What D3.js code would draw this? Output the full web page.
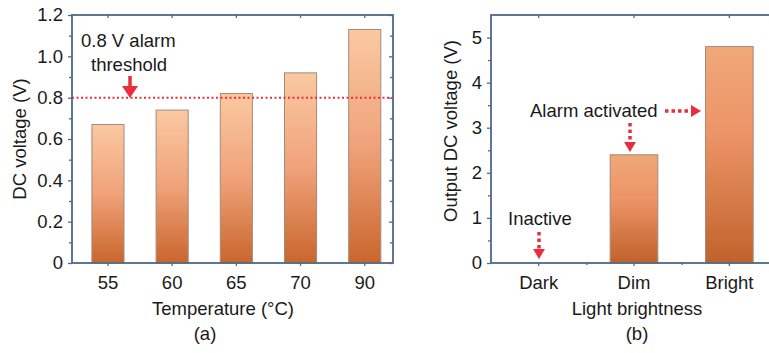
<!DOCTYPE html>
<html>
<head>
<meta charset="utf-8">
<script src="https://cdn.jsdelivr.net/npm/d3@7"></script>
<style>
  body { margin: 0; background: #fff; }
  svg text { font-family: "Liberation Sans", Arial, sans-serif; fill: #1a1a1a; }
</style>
</head>
<body>
<div id="chart"></div>
<script>
// panel (a) data
const tempLabels = ["55", "60", "65", "70", "90"];
const tempVoltage = [0.67, 0.74, 0.82, 0.92, 1.13];
const tempTicks = [0, 0.2, 0.4, 0.6, 0.8, 1.0, 1.2];
const alarmThreshold = 0.8;

// panel (b) data
const lightLabels = ["Dark", "Dim", "Bright"];
const lightVoltage = [0, 2.4, 4.8];
const lightTicks = [0, 1, 2, 3, 4, 5];

const W = 769, H = 353;
const FS = 18.5;
const frameColor = "#4d6a88";
const red = "#ea2e3c";

const svg = d3.select("#chart").append("svg")
  .attr("width", W)
  .attr("height", H);

const defs = svg.append("defs");
const gradA = defs.append("linearGradient").attr("id", "gradA")
  .attr("x1", 0).attr("y1", 0).attr("x2", 0).attr("y2", 1);
gradA.append("stop").attr("offset", "0%").attr("stop-color", "#fac9a1");
gradA.append("stop").attr("offset", "50%").attr("stop-color", "#f0a27a");
gradA.append("stop").attr("offset", "100%").attr("stop-color", "#c9662c");

const gradB = defs.append("linearGradient").attr("id", "gradB")
  .attr("x1", 0).attr("y1", 0).attr("x2", 0).attr("y2", 1);
gradB.append("stop").attr("offset", "0%").attr("stop-color", "#f0a878");
gradB.append("stop").attr("offset", "40%").attr("stop-color", "#ed9468");
gradB.append("stop").attr("offset", "100%").attr("stop-color", "#c0622a");

// draws a framed bar panel with inner/outer ticks like the figure
function panel(opt) {
  const g = svg.append("g");
  const x = d3.scaleBand().domain(opt.labels).range([opt.left, opt.right])
    .paddingInner(0.5).paddingOuter(0.25).align(opt.align);
  const y = d3.scaleLinear().domain(opt.yDomain).range([opt.bottom, opt.top]);

  // bars
  g.selectAll("rect.bar").data(opt.values).enter().append("rect")
    .attr("class", "bar")
    .attr("x", (d, i) => x(opt.labels[i]))
    .attr("width", x.bandwidth())
    .attr("y", d => y(d))
    .attr("height", d => y(0) - y(d))
    .attr("fill", opt.fill)
    .attr("stroke", "#a48a7c")
    .attr("stroke-width", d => d > 0 ? 1 : 0);

  // left axis (outer ticks)
  g.append("g").attr("transform", `translate(${opt.left},0)`)
    .call(d3.axisLeft(y).tickValues(opt.ticks).tickSize(4).tickPadding(5).tickFormat(opt.fmt));
  g.append("g").attr("transform", `translate(${opt.left},0)`)
    .call(d3.axisLeft(y).tickValues(opt.minor).tickSize(3).tickFormat(""));

  // right side ticks pointing inward
  if (opt.rightTicks) {
    g.append("g").attr("transform", `translate(${opt.right},0)`)
      .call(d3.axisLeft(y).tickValues(opt.ticks).tickSize(4).tickFormat(""));
    g.append("g").attr("transform", `translate(${opt.right},0)`)
      .call(d3.axisLeft(y).tickValues(opt.minor).tickSize(3).tickFormat(""));
  }

  // bottom axis
  g.append("g").attr("transform", `translate(0,${opt.bottom})`)
    .call(d3.axisBottom(x).tickSize(3).tickPadding(10));
  if (opt.minorX) {
    g.append("g").attr("transform", `translate(0,${opt.bottom})`)
      .call(d3.axisBottom(d3.scaleLinear().domain([0, W]).range([0, W]))
        .tickValues(opt.labels.slice(1).map(l => x(l) + x.bandwidth() / 2 - x.step() / 2))
        .tickSize(2).tickFormat(""));
  }
  // top ticks pointing inward
  g.append("g").attr("transform", `translate(0,${opt.top})`)
    .call(d3.axisBottom(x).tickSize(3).tickFormat(""));

  g.selectAll(".domain").remove();
  g.selectAll(".tick line").attr("stroke", frameColor).attr("stroke-width", 1.3);
  g.selectAll(".tick text").attr("font-size", FS).attr("fill", "#1a1a1a")
    .style("font-family", '"Liberation Sans", Arial, sans-serif');

  // frame
  g.append("rect")
    .attr("x", opt.left).attr("y", opt.top)
    .attr("width", opt.right - opt.left).attr("height", opt.bottom - opt.top)
    .attr("fill", "none").attr("stroke", frameColor).attr("stroke-width", 1.8);

  // titles
  g.append("text")
    .attr("transform", `translate(${opt.yTitleX},${(opt.top + opt.bottom) / 2 + opt.yTitleDy}) rotate(-90)`)
    .attr("text-anchor", "middle").attr("font-size", FS).text(opt.yTitle);
  g.append("text").attr("x", opt.xTitleX).attr("y", 315)
    .attr("text-anchor", "middle").attr("font-size", FS).text(opt.xTitle);
  g.append("text").attr("x", opt.capX).attr("y", 340)
    .attr("text-anchor", "middle").attr("font-size", FS).text(opt.caption);

  return { g, x, y };
}

// ----- panel (a)
const a = panel({
  labels: tempLabels, values: tempVoltage,
  left: 72, right: 393, top: 15, bottom: 263, align: 0.62,
  yDomain: [0, 1.2], ticks: tempTicks,
  minor: d3.range(1, 12, 2).map(d => d / 10),
  fmt: d => d === 0 ? "0" : d.toFixed(1),
  fill: "url(#gradA)", rightTicks: true,
  yTitle: "DC voltage (V)", yTitleX: 26, yTitleDy: 0,
  xTitle: "Temperature (°C)", xTitleX: 223,
  caption: "(a)", capX: 205
});

a.g.append("line")
  .attr("x1", 72).attr("x2", 393)
  .attr("y1", a.y(alarmThreshold)).attr("y2", a.y(alarmThreshold))
  .attr("stroke", red).attr("stroke-width", 2)
  .attr("stroke-dasharray", "2,2.5");

a.g.append("text").attr("x", 81).attr("y", 47).attr("font-size", FS).text("0.8 V alarm");
a.g.append("text").attr("x", 91).attr("y", 71).attr("font-size", FS).text("threshold");
a.g.append("line")
  .attr("x1", 130).attr("x2", 130).attr("y1", 76).attr("y2", 89)
  .attr("stroke", red).attr("stroke-width", 3.5);
a.g.append("path")
  .attr("d", "M122,86 L138,86 L130,98 Z")
  .attr("fill", red);

// ----- panel (b)
const b = panel({
  labels: lightLabels, values: lightVoltage,
  left: 491, right: 777, top: 15, bottom: 263, align: 0.5,
  yDomain: [0, 5.5], ticks: lightTicks,
  minor: d3.range(0.5, 5.5, 1),
  fmt: d3.format("d"),
  fill: "url(#gradB)", rightTicks: false, minorX: true,
  yTitle: "Output DC voltage (V)", yTitleX: 457, yTitleDy: -8,
  xTitle: "Light brightness", xTitleX: 637,
  caption: "(b)", capX: 637
});

// dotted arrows
function dottedArrow(x1, y1, x2, y2) {
  const ang = Math.atan2(y2 - y1, x2 - x1);
  const hl = 10, hw = 6;
  const bx = x2 - hl * Math.cos(ang), by = y2 - hl * Math.sin(ang);
  b.g.append("line")
    .attr("x1", x1).attr("y1", y1).attr("x2", bx).attr("y2", by)
    .attr("stroke", red).attr("stroke-width", 3.5)
    .attr("stroke-dasharray", "3.5,3");
  const px = -Math.sin(ang) * hw, py = Math.cos(ang) * hw;
  b.g.append("path")
    .attr("d", `M${x2},${y2} L${bx + px},${by + py} L${bx - px},${by - py} Z`)
    .attr("fill", red);
}

b.g.append("text").attr("x", 530).attr("y", 117).attr("font-size", FS).text("Alarm activated");
dottedArrow(665, 111, 701, 111);
dottedArrow(630, 123, 630, 152);

b.g.append("text").attr("x", 508).attr("y", 225).attr("font-size", FS).text("Inactive");
dottedArrow(539, 232, 539, 259);
</script>
</body>
</html>
